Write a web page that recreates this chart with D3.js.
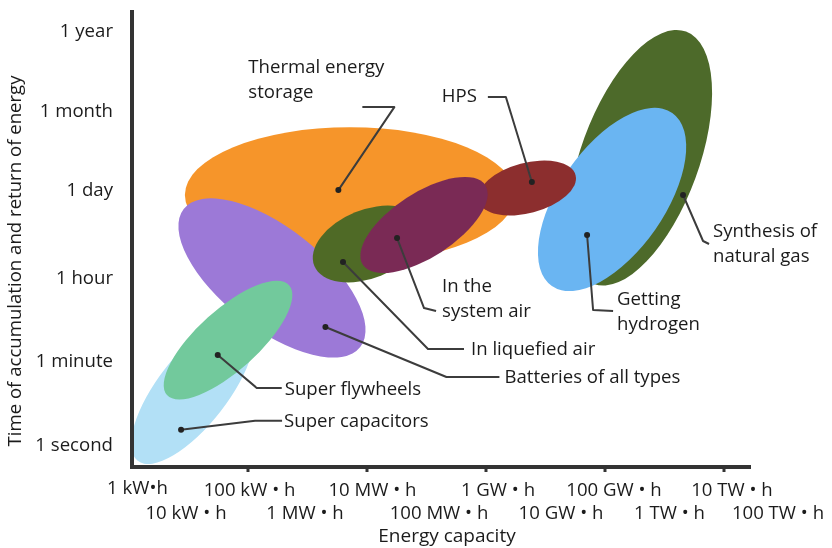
<!DOCTYPE html>
<html>
<head>
<meta charset="utf-8">
<script src="https://cdn.jsdelivr.net/npm/d3@7"></script>
<style>
    body { margin: 0; background: #fff; }
    svg { display: block; font-family: "Open Sans", sans-serif; }
</style>
</head>
<body>
<svg id="chart" width="832" height="548"></svg>
<script>
// Axis ticks
var timeLabels = ["1 second", "1 minute", "1 hour", "1 day", "1 month", "1 year"]
var timeSeconds = [1, 60, 3600, 86400, 2592000, 31536000]
var energyLabels = ["1 kW•h", "10 kW • h", "100 kW • h", "1 MW • h", "10 MW • h", "100 MW • h",
    "1 GW • h", "10 GW • h", "100 GW • h", "1 TW • h", "10 TW • h", "100 TW • h"]
var energyKWh = [1, 1e1, 1e2, 1e3, 1e4, 1e5, 1e6, 1e7, 1e8, 1e9, 1e10, 1e11]

// Technologies, in drawing order (back to front)
var techIds = ["thermal", "batteries", "supercap", "flywheel", "synthesis", "hydrogen", "liquefied", "hps", "sysair"]
var techLabels = [
    ["Thermal energy", "storage"],
    ["Batteries of all types"],
    ["Super capacitors"],
    ["Super flywheels"],
    ["Synthesis of", "natural gas"],
    ["Getting", "hydrogen"],
    ["In liquefied air"],
    ["HPS"],
    ["In the", "system air"]
]
// ellipse long axis: from (energyFrom, timeFrom) to (energyTo, timeTo), kWh and seconds
var energyFrom = [8.7, 8.3, 1.4, 4.35, 6.5e7, 1.28e7, 1300, 7.5e5, 8500]
var timeFrom = [69600, 42000, 0.44, 10.9, 2560, 2310, 5400, 56000, 5600]
var energyTo = [3.07e6, 7700, 100, 490, 2.3e9, 1.35e9, 83000, 3.2e7, 9.7e5]
var timeTo = [69600, 114, 450, 2400, 3.0e7, 2.29e6, 26000, 157000, 102000]
var widthRatio = [0.41, 0.45, 0.39, 0.37, 0.44, 0.5, 0.59, 0.5, 0.44]
// marker dot of each label
var dotEnergy = [3300, 2000, 7.5, 31, 2.05e9, 5e7, 3950, 5.9e6, 32000]
var dotTime = [83000, 305, 2, 77, 69600, 16400, 6190, 117000, 14700]

// Styles
var techColors = ["#f6952a", "#9c79d7", "#b2e0f6", "#72c99c", "#4e6a2b", "#6bb5f2", "#4f6b26", "#8c2e2e", "#7a2b55"]
var textColor = "#1b1b1b"
var axisColor = "#333"
var leaderColor = "#3c3c3c"
var fontSize = "18.6px"

// x tick label nudges (px), the labels sit a bit off their ticks
var xLabelNudge = [8.5, -2.5, 1.5, -2.5, 5.5, 12.5, 12, 15.5, 9, 5, 8, -5.5]

// leader layout: elbow points and text offset, relative to the dot (px)
var leaderPts = [
    [[56, -83], [24, -83]],
    [[121, 50], [174, 50]],
    [[74, -9], [101, -9]],
    [[39, 33], [64, 33]],
    [[20, 46], [26, 49]],
    [[6, 75], [26, 76]],
    [[85, 87], [121, 87]],
    [[-26, -85], [-44, -85]],
    [[27, 70], [39, 73]]
]
var textOffset = [[-90, -117], [179, 56], [103, -3], [67, 40], [30, 42], [30, 70], [128, 93], [-55, -80], [45, 54]]

var svg = d3.select("#chart")

var x = d3.scaleLog()
    .domain([1, 1e11])
    .range([129, 783.5])

var y = d3.scaleLog()
    .domain(timeSeconds)
    .range([444, 360, 277, 189, 110, 30])

var defs = svg.append("defs")
defs.append("filter").attr("id", "soft")
    .append("feGaussianBlur").attr("stdDeviation", 0.7)

// Ellipses
var techs = techIds.map(function(id, i) {
    var p0 = [x(energyFrom[i]), y(timeFrom[i])]
    var p1 = [x(energyTo[i]), y(timeTo[i])]
    var dx = p1[0] - p0[0], dy = p1[1] - p0[1]
    var a = Math.sqrt(dx * dx + dy * dy) / 2
    return {
        id: id,
        cx: (p0[0] + p1[0]) / 2,
        cy: (p0[1] + p1[1]) / 2,
        rx: a,
        ry: a * widthRatio[i],
        angle: Math.atan2(dy, dx) * 180 / Math.PI,
        color: techColors[i],
        dot: [x(dotEnergy[i]), y(dotTime[i])],
        pts: leaderPts[i],
        off: textOffset[i],
        lines: techLabels[i]
    }
})

svg.append("g")
    .attr("filter", "url(#soft)")
    .selectAll("ellipse")
    .data(techs)
    .enter().append("ellipse")
    .attr("id", d => d.id)
    .attr("transform", d => "translate(" + d.cx + "," + d.cy + ") rotate(" + d.angle + ")")
    .attr("rx", d => d.rx)
    .attr("ry", d => d.ry)
    .style("fill", d => d.color)

// Axes
var xAxis = svg.append("g")
    .attr("transform", "translate(0,467)")
xAxis.append("line")
    .attr("x1", 130).attr("x2", 751)
    .style("stroke", axisColor).style("stroke-width", 4)
xAxis.selectAll(".tick")
    .data(energyKWh.filter((d, i) => i % 2 == 0 && i > 0 && i < 11))
    .enter().append("line")
    .attr("class", "tick")
    .attr("x1", d => x(d)).attr("x2", d => x(d))
    .attr("y1", 0).attr("y2", 5)
    .style("stroke", axisColor).style("stroke-width", 3)
xAxis.selectAll(".xlabel")
    .data(energyKWh)
    .enter().append("text")
    .attr("class", "xlabel")
    .attr("x", (d, i) => x(d) + xLabelNudge[i])
    .attr("y", (d, i) => i % 2 == 0 ? (i == 0 ? 27 : 29) : 52)
    .attr("text-anchor", "middle")
    .style("font-size", fontSize)
    .style("fill", textColor)
    .text((d, i) => energyLabels[i])

svg.append("line")
    .attr("x1", 132).attr("x2", 132)
    .attr("y1", 10).attr("y2", 469)
    .style("stroke", axisColor).style("stroke-width", 4)

svg.selectAll(".ylabel")
    .data(timeSeconds)
    .enter().append("text")
    .attr("class", "ylabel")
    .attr("x", 113)
    .attr("y", d => y(d))
    .attr("dy", "0.36em")
    .attr("text-anchor", "end")
    .style("font-size", fontSize)
    .style("fill", textColor)
    .text((d, i) => timeLabels[i])

svg.append("text")
    .attr("x", 447).attr("y", 542)
    .attr("text-anchor", "middle")
    .style("font-size", "19px")
    .style("fill", textColor)
    .text("Energy capacity")

svg.append("text")
    .attr("transform", "translate(21,261) rotate(-90)")
    .attr("text-anchor", "middle")
    .style("font-size", "18.6px")
    .style("fill", textColor)
    .text("Time of accumulation and return of energy")

// Leaders and labels
var notes = svg.append("g").selectAll("g")
    .data(techs)
    .enter().append("g")

notes.append("polyline")
    .attr("points", d => [d.dot].concat(d.pts.map(p => [d.dot[0] + p[0], d.dot[1] + p[1]])).map(p => p.join(",")).join(" "))
    .style("fill", "none")
    .style("stroke", leaderColor)
    .style("stroke-width", 2)
    .style("stroke-linejoin", "round")

notes.append("circle")
    .attr("cx", d => d.dot[0])
    .attr("cy", d => d.dot[1])
    .attr("r", 3)
    .style("fill", "#222")

notes.append("text")
    .attr("x", d => d.dot[0] + d.off[0])
    .attr("y", d => d.dot[1] + d.off[1])
    .attr("text-anchor", d => d.id == "hps" ? "end" : "start")
    .style("font-size", fontSize)
    .style("fill", textColor)
    .selectAll("tspan")
    .data(d => d.lines.map(s => ({ s: s, x: d.dot[0] + d.off[0] })))
    .enter().append("tspan")
    .attr("x", t => t.x)
    .attr("dy", (t, i) => i == 0 ? 0 : 25)
    .text(t => t.s)
</script>
</body>
</html>
